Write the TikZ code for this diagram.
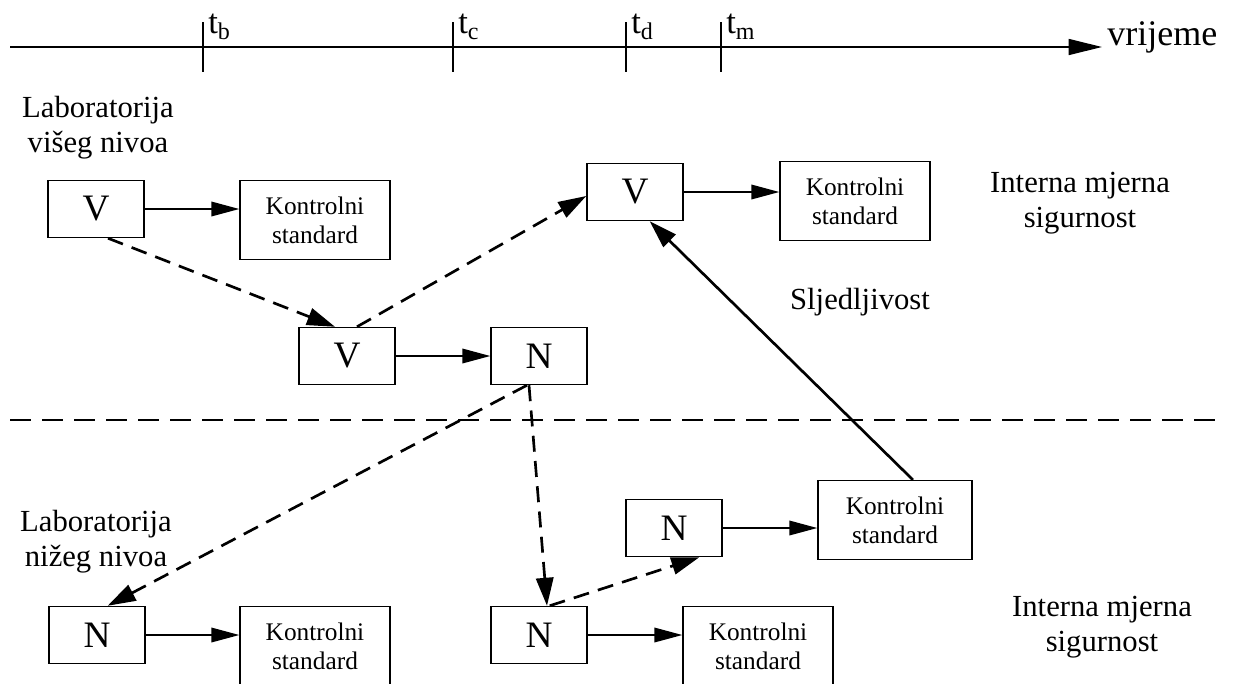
\documentclass[tikz,border=0pt]{standalone}
\usepackage{fontspec}
\setmainfont{Liberation Serif}
\usetikzlibrary{arrows.meta}
\begin{document}
\begin{tikzpicture}[x=0.75pt,y=-0.75pt,
  lab/.style={font=\fontsize{23}{25}\selectfont,inner sep=0pt,anchor=base},
  sbox/.style={draw,line width=1.1pt,minimum width=72pt,minimum height=42.75pt,inner sep=0pt,font=\fontsize{28}{30}\selectfont},
  kbox/.style={draw,line width=1.1pt,minimum width=112.5pt,minimum height=59pt,inner sep=0pt,align=center,font=\fontsize{19}{22}\selectfont},
  thinarrow/.style={line width=1.1pt,-{Triangle[length=21pt,width=11pt]}},
  dasharrow/.style={line width=2pt,dash pattern=on 12pt off 7pt,-{Triangle[length=21pt,width=13pt]}},
  strongarrow/.style={line width=2pt,-{Triangle[length=21pt,width=13pt]}},
  tlab/.style={font=\fontsize{26}{28}\selectfont,inner sep=0pt,anchor=base west}
]
\useasboundingbox (0,0) rectangle (1242,683);
\clip (0,0) rectangle (1242,683);
% time axis
\coordinate (a0) at (10,47);
\coordinate (a1) at (1102,47);
\draw[line width=1.1pt,-{Triangle[length=25pt,width=12pt]}] (a0) -- (a1);
\node[lab,anchor=base west,font=\fontsize{27}{29}\selectfont] (vr) at (1107,45) {vrijeme};
\foreach \x/\s/\n in {203/b/tb,453/c/tc,626/d/td,721/m/tm}{
  \draw[line width=1.1pt] (\x,22) -- (\x,72);
  \node[tlab] (\n) at (\x+5,33) {t\raisebox{-0.4ex}{\fontsize{18}{20}\selectfont\s}};
}
% labels
\node[lab] (l1a) at (98,117) {Laboratorija};
\node[lab] (l1b) at (98,152) {višeg nivoa};
\node[lab] (l2a) at (96,531) {Laboratorija};
\node[lab] (l2b) at (96,566) {nižeg nivoa};
\node[lab] (i1a) at (1080,192) {Interna mjerna};
\node[lab] (i1b) at (1080,227) {sigurnost};
\node[lab] (i2a) at (1102,616) {Interna mjerna};
\node[lab] (i2b) at (1102,651) {sigurnost};
\node[lab] (sl) at (860,309) {Sljedljivost};
% separator
\coordinate (s0) at (10,420);
\coordinate (s1) at (1225,420);
\draw[line width=1.1pt,dash pattern=on 16pt off 8pt] (s0) -- (s1);
% boxes
\node[sbox] (V1) at (96,209) {V};
\node[kbox] (K1) at (315,220) {Kontrolni\\standard};
\node[sbox] (V2) at (635,192) {V};
\node[kbox] (K2) at (855,201) {Kontrolni\\standard};
\node[sbox] (V3) at (347,356) {V};
\node[sbox] (N1) at (539,356) {N};
\node[sbox] (N2) at (97,635) {N};
\node[kbox] (K3) at (315,646) {Kontrolni\\standard};
\node[sbox] (N3) at (539,635) {N};
\node[kbox] (K4) at (758,646) {Kontrolni\\standard};
\node[sbox] (N4) at (674,528) {N};
\node[kbox,minimum width=115.5pt] (K5) at (895,520) {Kontrolni\\standard};
% solid arrows
\draw[thinarrow] (V1) -- (K1.west |- V1);
\draw[thinarrow] (V2) -- (K2.west |- V2);
\draw[thinarrow] (V3) -- (N1);
\draw[thinarrow] (N2) -- (K3.west |- N2);
\draw[thinarrow] (N3) -- (K4.west |- N3);
\draw[thinarrow] (N4) -- (K5.west |- N4);
\draw[strongarrow] ([xshift=13.5pt]K5.north) -- ([xshift=11pt]V2.south);
% dashed arrows
\draw[dasharrow] ([xshift=9pt]V1.south) -- ([xshift=-9pt]V3.north);
\draw[dasharrow] ([xshift=7.5pt]V3.north) -- ([yshift=-3pt]V2.west);
\draw[dasharrow] ([xshift=-9pt]N1.south) -- ([xshift=8pt]N2.north);
\draw[dasharrow] ([xshift=-7.5pt]N1.south) -- ([xshift=6pt]N3.north);
\draw[dasharrow] ([xshift=8pt]N3.north) -- ([xshift=19pt]N4.south);
\end{tikzpicture}
\end{document}
